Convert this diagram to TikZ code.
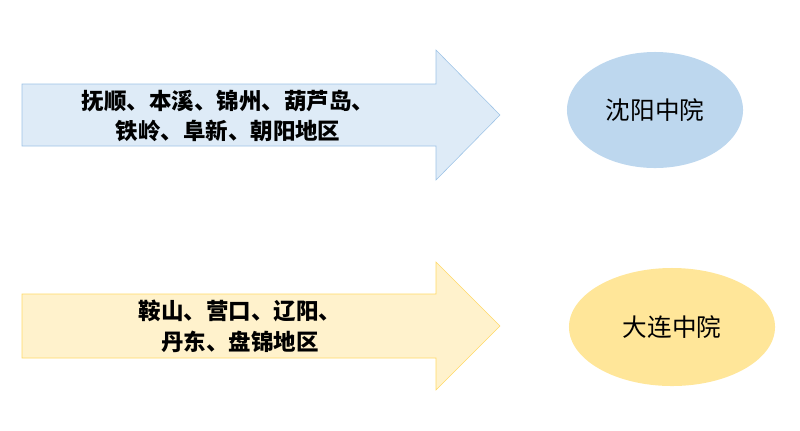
\documentclass[tikz,border=0pt]{standalone}
\usepackage{fontspec}
\usepackage{xcolor}
\usetikzlibrary{shapes.geometric, positioning}
\newfontfamily\cjk{Noto Sans CJK SC}
\definecolor{arrowblue}{HTML}{DEEBF7}
\definecolor{lineblue}{HTML}{9DC3E6}
\definecolor{arrowyellow}{HTML}{FFF2CC}
\definecolor{lineyellow}{HTML}{FFD966}
\definecolor{courtblue}{HTML}{BDD7EE}
\definecolor{courtyellow}{HTML}{FFE699}

\begin{document}
\begin{tikzpicture}[
        x=0.025cm, y=-0.025cm,
        region/.style={align=center, font=\cjk\bfseries\fontsize{16}{22}\selectfont},
        court/.style={ellipse, inner sep=0pt, font=\cjk\fontsize{17.5}{20}\selectfont}
    ]
        \useasboundingbox (0,0) rectangle (800,430);

        % Arrows
        \draw[lineblue, fill=arrowblue] (22,84) -- (436,84) -- (436,50) -- (500,115)
            -- (436,180) -- (436,146) -- (22,146) -- cycle;
        \draw[lineyellow, fill=arrowyellow] (22,294) -- (436,294) -- (436,262) -- (500,326)
            -- (436,390) -- (436,358) -- (22,358) -- cycle;

        % Nodes
        \node[region] (north) at (228,116) {抚顺、本溪、锦州、葫芦岛、\\铁岭、阜新、朝阳地区};
        \node[region] (south) at (240,326) {鞍山、营口、辽阳、\\丹东、盘锦地区};
        \node[court, fill=courtblue, minimum width=4.4cm, minimum height=2.9cm] (shenyang) at (655,110) {沈阳中院};
        \node[court, fill=courtyellow, minimum width=5.15cm, minimum height=2.95cm] (dalian) at (672,327) {大连中院};
    \end{tikzpicture}
\end{document}
